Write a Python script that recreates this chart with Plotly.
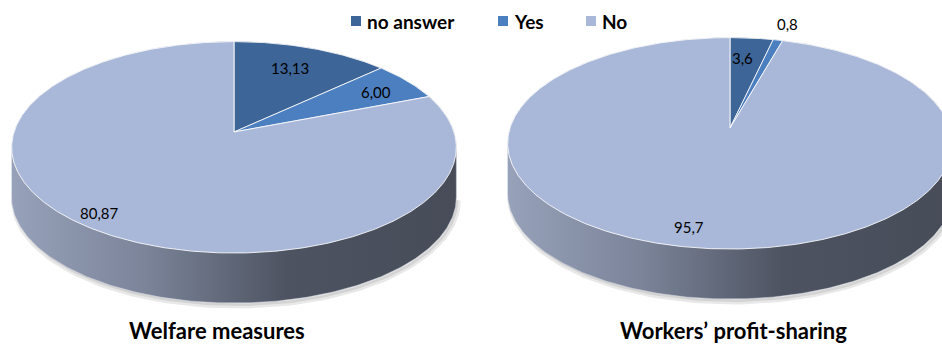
import numpy as np
import plotly.graph_objects as go

# Survey answers, in percent
categories = ["no answer", "Yes", "No"]
welfare_values = [13.13, 6.00, 80.87]
profit_values = [3.6, 0.8, 95.7]
welfare_labels = ["13,13", "6,00", "80,87"]
profit_labels = ["3,6", "0,8", "95,7"]
chart_titles = ["Welfare measures", "Workers\u2019 profit-sharing"]

slice_colors = ["#3e6597", "#4c7fbf", "#a9b8d9"]
side_scale = [[0.0, "#97a1b9"], [0.3, "#7b8499"], [0.62, "#4d5361"], [1.0, "#474c58"]]
FONT = "Lato, 'DejaVu Sans', sans-serif"

# 3-D pie projection (screen pixels): tilted disc with mild perspective
RX, RY, PERSP, DEPTH = 220.0, 103.5, 0.145, 50.0


def project(cx, cy, theta_deg, r=1.0):
    """Map a point on the pie disc (angle clockwise from 12 o'clock) to screen."""
    t = np.radians(np.asarray(theta_deg, dtype=float))
    u, v = r * np.sin(t), r * np.cos(t)
    w = 1.0 + PERSP * v
    return cx + RX * u / w, cy - RY * v / w


def add_pie(fig, cx, cy, values, labels, nudges, radii):
    total = float(sum(values))
    edge = np.degrees(np.arccos(-PERSP))  # angle of the silhouette's widest point

    # soft shadow below the cylinder
    ts = np.linspace(edge, 360 - edge, 120)
    sx, sy = project(cx, cy, ts)
    fig.add_trace(go.Scatter(x=sx + 2, y=sy + DEPTH + 3, fill="toself", mode="lines",
                             line=dict(width=5, color="rgba(0,0,0,0.09)"),
                             fillcolor="rgba(0,0,0,0.09)", hoverinfo="skip",
                             showlegend=False))

    # cylinder wall: far rim of the top face, then the near rim of the base
    t_top = np.linspace(-edge, edge, 200)
    t_bot = np.linspace(edge, 360 - edge, 200)
    x1, y1 = project(cx, cy, t_top)
    x2, y2 = project(cx, cy, t_bot)
    fig.add_trace(go.Scatter(x=np.concatenate([x1, x2]),
                             y=np.concatenate([y1, y2 + DEPTH]),
                             fill="toself", mode="lines",
                             line=dict(width=0.5, color="#c9cfda"),
                             fillgradient=dict(type="horizontal", colorscale=side_scale),
                             hoverinfo="skip", showlegend=False))

    # top-face slices, clockwise from 12 o'clock
    start = 0.0
    for val, col, name in zip(values, slice_colors, categories):
        span = 360.0 * val / total
        ts = np.linspace(start, start + span, max(4, int(span * 2)))
        ax, ay = project(cx, cy, ts)
        fig.add_trace(go.Scatter(x=np.concatenate([[cx], ax, [cx]]),
                                 y=np.concatenate([[cy], ay, [cy]]),
                                 fill="toself", mode="lines", fillcolor=col,
                                 line=dict(width=1, color="rgba(255,255,255,0.85)"),
                                 name=name, hoverinfo="name", showlegend=False))
        start += span

    # value labels at each slice's mid angle
    start = 0.0
    for val, txt, (dx, dy), r in zip(values, labels, nudges, radii):
        span = 360.0 * val / total
        lx, ly = project(cx, cy, start + span / 2, r)
        fig.add_annotation(x=float(lx) + dx, y=float(ly) + dy, text=txt, showarrow=False,
                           font=dict(family=FONT, size=15, color="#000000"))
        start += span


fig = go.Figure()
add_pie(fig, 234, 132, welfare_values, welfare_labels,
        nudges=[(0, -3), (0, 2), (-12, -3)], radii=[0.70, 0.81, 0.88])
add_pie(fig, 730, 128, profit_values, profit_labels,
        nudges=[(-4, 0), (1, 0), (-13, 4)], radii=[0.75, 1.22, 0.82])

# chart titles
for title, x in zip(chart_titles, [217, 733]):
    fig.add_annotation(x=x, y=344.5, yanchor="bottom", text=f"<b>{title}</b>",
                       showarrow=False, borderpad=0,
                       font=dict(family=FONT, size=22, color="#000000"))

# legend row
legend_sq = [356, 503, 591]
for name, col, x in zip(categories, slice_colors, legend_sq):
    fig.add_shape(type="rect", x0=x - 5, x1=x + 5, y0=16, y1=26,
                  fillcolor=col, line=dict(width=0))
    fig.add_annotation(x=x + 9, y=21, text=f"<b>{name}</b>", showarrow=False,
                       xanchor="left", font=dict(family=FONT, size=19, color="#000000"))

fig.update_layout(
    width=942, height=345,
    margin=dict(l=0, r=0, t=0, b=0),
    paper_bgcolor="white", plot_bgcolor="white",
    xaxis=dict(range=[0, 942], visible=False, fixedrange=True),
    yaxis=dict(range=[345, 0], visible=False, fixedrange=True),
    showlegend=False,
)

fig.write_html("out.html")
